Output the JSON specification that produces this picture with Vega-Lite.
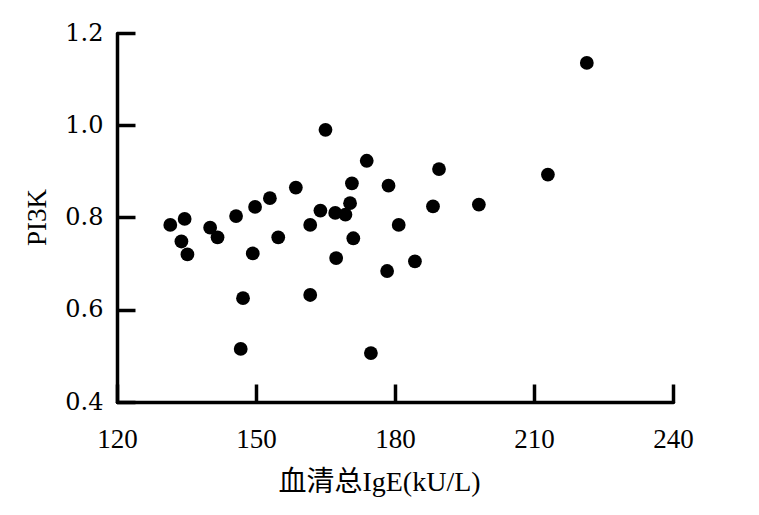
{
  "$schema": "https://vega.github.io/schema/vega-lite/v6.json",
  "width": 556,
  "height": 369,
  "autosize": "none",
  "padding": {"left": 117, "top": 33, "right": 86, "bottom": 113},
  "background": "white",
  "config": {
    "view": {"stroke": null},
    "font": "Liberation Serif, Noto Sans CJK SC"
  },
  "data": {
    "values": [
      {"ige": 131.5, "pi3k": 0.784},
      {"ige": 134.6, "pi3k": 0.797},
      {"ige": 133.9, "pi3k": 0.748},
      {"ige": 135.2, "pi3k": 0.720},
      {"ige": 140.1, "pi3k": 0.778},
      {"ige": 141.7, "pi3k": 0.757},
      {"ige": 145.7, "pi3k": 0.803},
      {"ige": 149.8, "pi3k": 0.823},
      {"ige": 153.0, "pi3k": 0.842},
      {"ige": 158.6, "pi3k": 0.865},
      {"ige": 149.3, "pi3k": 0.722},
      {"ige": 154.8, "pi3k": 0.757},
      {"ige": 147.2, "pi3k": 0.625},
      {"ige": 146.7, "pi3k": 0.515},
      {"ige": 161.7, "pi3k": 0.784},
      {"ige": 163.9, "pi3k": 0.815},
      {"ige": 165.0, "pi3k": 0.990},
      {"ige": 161.7, "pi3k": 0.632},
      {"ige": 167.1, "pi3k": 0.810},
      {"ige": 169.3, "pi3k": 0.806},
      {"ige": 170.3, "pi3k": 0.831},
      {"ige": 170.7, "pi3k": 0.874},
      {"ige": 171.0, "pi3k": 0.755},
      {"ige": 167.3, "pi3k": 0.712},
      {"ige": 173.9, "pi3k": 0.923},
      {"ige": 174.8, "pi3k": 0.506},
      {"ige": 178.6, "pi3k": 0.869},
      {"ige": 178.3, "pi3k": 0.684},
      {"ige": 180.8, "pi3k": 0.784},
      {"ige": 184.3, "pi3k": 0.705},
      {"ige": 188.2, "pi3k": 0.824},
      {"ige": 189.5, "pi3k": 0.905},
      {"ige": 198.1, "pi3k": 0.828},
      {"ige": 213.0, "pi3k": 0.893},
      {"ige": 221.4, "pi3k": 1.135}
    ]
  },
  "mark": {"type": "circle", "size": 190, "color": "black", "opacity": 1},
  "encoding": {
    "x": {
      "field": "ige",
      "type": "quantitative",
      "scale": {"domain": [120, 240], "nice": false, "zero": false},
      "axis": {
        "values": [120, 150, 180, 210, 240],
        "grid": false,
        "domainColor": "black",
        "domainWidth": 3.5,
        "domainCap": "round",
        "tickColor": "black",
        "tickWidth": 3.5,
        "tickSize": -18,
        "labelPadding": 42,
        "labelFontSize": 27,
        "labelColor": "black",
        "labelFlush": false,
        "title": "血清总IgE(kU/L)",
        "titleFontSize": 28,
        "titleFontWeight": "normal",
        "titleColor": "black",
        "titleAnchor": "start",
        "titleAlign": "center",
        "titleX": 262,
        "titleY": 88,
        "titleBaseline": "alphabetic"
      }
    },
    "y": {
      "field": "pi3k",
      "type": "quantitative",
      "scale": {"domain": [0.4, 1.2], "nice": false, "zero": false},
      "axis": {
        "values": [0.4, 0.6, 0.8, 1.0, 1.2],
        "format": ".1f",
        "grid": false,
        "domainColor": "black",
        "domainWidth": 3.5,
        "domainCap": "round",
        "tickColor": "black",
        "tickWidth": 3.5,
        "tickSize": -18,
        "labelPadding": 32,
        "labelFont": "DejaVu Serif",
        "labelFontSize": 24,
        "labelColor": "black",
        "labelFlush": false,
        "title": "PI3K",
        "titleFontSize": 27,
        "titleFontWeight": "normal",
        "titleColor": "black",
        "titleAnchor": "start",
        "titleAlign": "center",
        "titleX": -80,
        "titleY": 184,
        "titleBaseline": "middle",
        "titleAngle": 270
      }
    }
  }
}
